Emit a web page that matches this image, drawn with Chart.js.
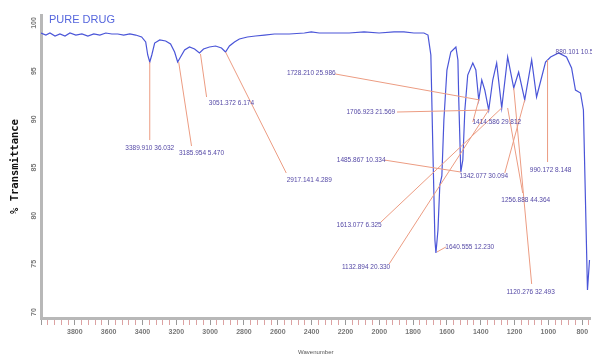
<!DOCTYPE html>
<html>
<head>
<meta charset="utf-8">
<script src="https://cdn.jsdelivr.net/npm/chart.js@4/dist/chart.umd.min.js"></script>
<style>
  html, body { margin: 0; padding: 0; background: #fff; }
  #wrap { width: 592px; height: 358px; }
</style>
</head>
<body>
<div id="wrap"><canvas id="irChart"></canvas></div>
<script>
// spectrum (cm-1, %T)
const wavenumber = [4000,3971,3947,3917,3888,3858,3829,3794,3758,3723,3688,3652,3617,3581,3546,3511,3475,3440,3405,3381,3369,3357,3345,3328,3298,3263,3234,3210,3192,3175,3151,3122,3092,3063,3039,3004,2968,2933,2909,2886,2856,2827,2780,2732,2679,2620,2532,2443,2402,2355,2267,2178,2090,2001,1913,1854,1795,1736,1712,1695,1683,1671,1665,1653,1642,1630,1618,1600,1577,1547,1535,1530,1518,1506,1494,1477,1447,1429,1412,1394,1376,1353,1329,1306,1276,1241,1205,1176,1140,1099,1070,1017,987,940,893,863,840,810,793,781,769,757];
const transmittance = [98.96,98.75,98.96,98.65,98.86,98.65,98.96,98.75,98.86,98.65,98.86,98.75,98.96,98.86,98.86,98.75,98.86,98.75,98.55,98.03,96.68,95.95,96.68,97.92,98.24,98.13,97.82,96.99,95.95,96.47,97.20,97.51,97.30,96.89,97.30,97.51,97.61,97.40,96.99,97.61,98.03,98.34,98.55,98.65,98.75,98.86,98.86,98.96,99.07,98.96,98.96,98.96,99.07,98.96,99.07,99.07,98.96,98.96,98.75,96.68,86.82,77.47,76.12,78.51,83.18,84.12,89.93,95.12,96.99,97.51,96.16,92.01,84.53,85.78,90.97,94.60,95.85,95.12,92.01,94.08,93.04,90.97,94.08,95.85,91.18,96.47,93.25,94.91,92.01,96.16,92.32,95.95,96.47,96.89,96.47,95.33,93.04,92.73,90.97,81.63,72.28,75.40];

const yTicks = [70, 75, 80, 85, 90, 95, 100];
const xTickLabels = [3800,3600,3400,3200,3000,2800,2600,2400,2200,2000,1800,1600,1400,1200,1000,800];

// peak labels
const peakText = ['3389.910 36.032','3185.954 5.470','3051.372 6.174','2917.141 4.289','1728.210 25.986','1706.923 21.569','1414.586 29.812','1485.867 10.334','1342.077 30.094','1613.077 6.325','1132.894 20.330','1640.555 12.230','1256.888 44.364','1120.276 32.493','990.172 8.148','880.101 10.573'];

// where each label and its leader line sit, in data units (wn, %T)
const callouts = [
  {at:[3357,87.0],  from:[3357,95.95], to:[3357,87.85]},
  {at:[3051,86.5],  from:[3186,95.95], to:[3110,87.23]},
  {at:[2874,91.7],  from:[3057,96.78], to:[3021,92.32]},
  {at:[2414,83.7],  from:[2909,96.99], to:[2550,84.43]},
  {at:[2402,94.81], from:[2261,94.71], to:[1406,92.01]},
  {at:[2050,90.76], from:[1895,90.76], to:[1353,90.97]},
  {at:[1305,89.72], from:[1447,89.72], to:[1412,92.01]},
  {at:[2107,85.78], from:[1972,85.78], to:[1518,84.53]},
  {at:[1382,84.12], from:[1258,84.43], to:[1140,92.01]},
  {at:[2119,79.03], from:[1990,79.34], to:[1276,91.18]},
  {at:[2078,74.67], from:[1942,74.98], to:[1353,90.97]},
  {at:[1465,76.75], from:[1659,76.23], to:[1606,76.75]},
  {at:[1134,81.63], from:[1152,82.35], to:[1241,91.18]},
  {at:[1105,72.08], from:[1099,72.91], to:[1205,93.25]},
  {at:[987,84.74],  from:[1005,85.57], to:[1005,96.16]},
  {at:[958,96.99],  align:'left'}
];

const extras = {
  id: 'extras',
  afterDatasetsDraw(chart) {
    const {ctx, scales: {x, y}} = chart;
    ctx.save();
    ctx.strokeStyle = '#ec9c82';
    ctx.lineWidth = 1;
    callouts.forEach(c => {
      if (!c.from) return;
      ctx.beginPath();
      ctx.moveTo(x.getPixelForValue(c.from[0]), y.getPixelForValue(c.from[1]));
      ctx.lineTo(x.getPixelForValue(c.to[0]), y.getPixelForValue(c.to[1]));
      ctx.stroke();
    });
    ctx.fillStyle = '#5549a6';
    ctx.font = '6.5px Arial';
    ctx.textBaseline = 'middle';
    callouts.forEach((c, i) => {
      ctx.textAlign = c.align || 'center';
      ctx.fillText(peakText[i], x.getPixelForValue(c.at[0]), y.getPixelForValue(c.at[1]));
    });
    ctx.restore();
  },
  afterDraw(chart) {
    const {ctx, scales: {y}} = chart;
    ctx.save();
    // title
    ctx.fillStyle = '#5566dd';
    ctx.font = '11px Arial';
    ctx.textAlign = 'left';
    ctx.textBaseline = 'middle';
    ctx.fillText('PURE DRUG', 49, 20);
    // rotated y tick labels
    ctx.fillStyle = '#777';
    ctx.font = 'bold 7px Arial';
    ctx.textAlign = 'center';
    yTicks.forEach(v => {
      ctx.save();
      ctx.translate(34, y.getPixelForValue(v));
      ctx.rotate(-Math.PI / 2);
      ctx.fillText(String(v), 0, 0);
      ctx.restore();
    });
    ctx.restore();
  }
};

new Chart(document.getElementById('irChart'), {
  type: 'line',
  data: {
    datasets: [{
      data: wavenumber.map((w, i) => ({x: w, y: transmittance[i]})),
      borderColor: '#4a55d8',
      borderWidth: 1.2,
      pointRadius: 0,
      tension: 0,
      fill: false
    }]
  },
  options: {
    responsive: true,
    maintainAspectRatio: false,
    animation: false,
    layout: {padding: {top: 15, left: 0, right: 0, bottom: 0}},
    plugins: {legend: {display: false}, tooltip: {enabled: false}},
    scales: {
      x: {
        type: 'linear',
        reverse: true,
        min: 751,
        max: 4000,
        afterBuildTicks: axis => {
          const t = [];
          for (let v = 4000; v >= 760; v -= 40) t.push({value: v});
          axis.ticks = t;
        },
        afterFit: axis => { axis.height = 40; },
        border: {display: true, color: '#b8b8b8', width: 3},
        grid: {
          drawOnChartArea: false,
          tickLength: 7,
          tickColor: ctx => (ctx.tick && ctx.tick.value % 200 === 0) ? '#999' : '#dca2a2',
          tickWidth: 1
        },
        ticks: {
          autoSkip: false,
          maxRotation: 0,
          minRotation: 0,
          padding: 3,
          color: '#777',
          font: {size: 7, weight: 'bold'},
          callback: v => xTickLabels.includes(v) ? String(v) : ''
        },
        title: {
          display: true,
          text: 'Wavenumber',
          color: '#555',
          font: {size: 6},
          padding: {top: 0, bottom: 2}
        }
      },
      y: {
        min: 69.38,
        max: 100.83,
        afterBuildTicks: axis => { axis.ticks = yTicks.map(v => ({value: v})); },
        afterFit: axis => { axis.width = 41; },
        border: {display: true, color: '#b8b8b8', width: 3},
        grid: {display: false},
        ticks: {display: false},
        title: {
          display: true,
          text: '% Transmittance',
          color: '#111',
          font: {family: 'DejaVu Sans Mono', size: 10.5, weight: 'bold'},
          padding: {top: 9, bottom: 0}
        }
      }
    }
  },
  plugins: [extras]
});
</script>
</body>
</html>
